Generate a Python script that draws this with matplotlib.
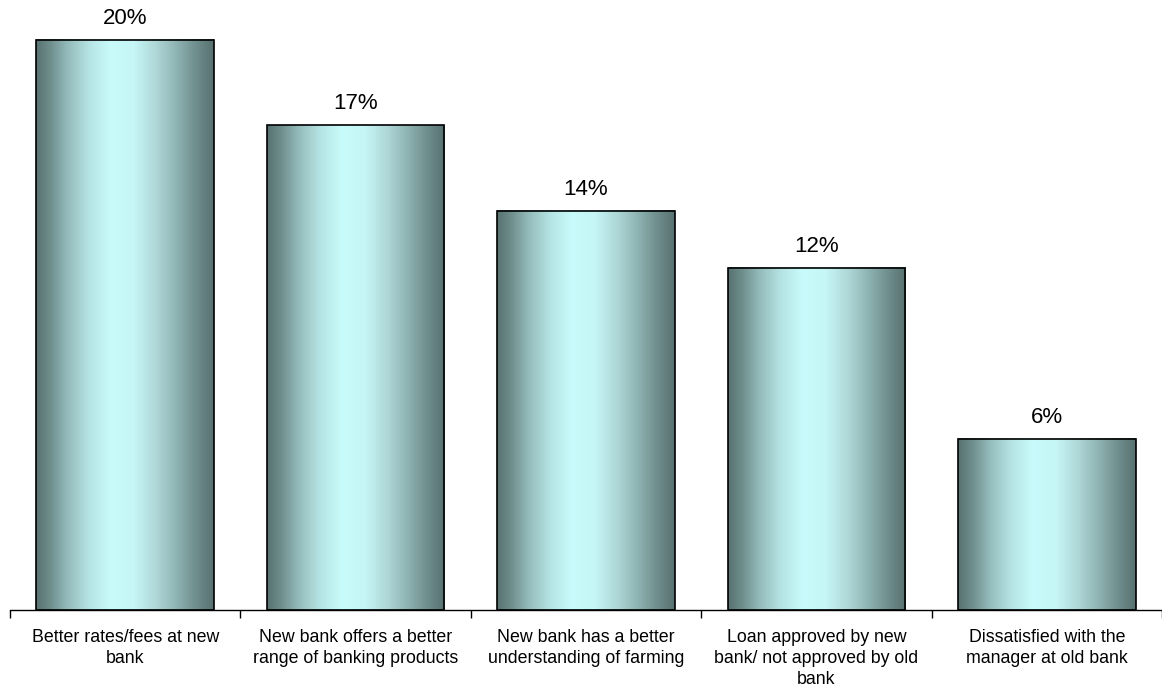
import matplotlib.pyplot as plt
import numpy as np
from matplotlib.colors import LinearSegmentedColormap

plt.rcParams['font.family'] = ['Liberation Sans', 'DejaVu Sans']

categories = ['Better rates/fees at new\nbank',
              'New bank offers a better\nrange of banking products',
              'New bank has a better\nunderstanding of farming',
              'Loan approved by new\nbank/ not approved by old\nbank',
              'Dissatisfied with the\nmanager at old bank']
values = [20, 17, 14, 12, 6]
value_labels = ['20%', '17%', '14%', '12%', '6%']

# metallic teal gradient across each bar
cmap = LinearSegmentedColormap.from_list('metal', [
    (0.0, '#587270'), (0.08, '#6e8e8c'), (0.18, '#95bcbc'),
    (0.3, '#b6e4e4'), (0.42, '#c8fbfb'), (0.55, '#c6f6f6'),
    (0.68, '#aed6d6'), (0.8, '#8cb0b0'), (0.9, '#6f8e8d'),
    (1.0, '#577170')], N=512)
grad = np.linspace(0, 1, 512).reshape(1, -1)

fig = plt.figure(figsize=(11.62, 6.9), dpi=100)
ax = fig.add_axes([0.0086, 0.1159, 0.9914, 0.884])

width = 0.77
x = np.arange(len(values))
for xi, v, lab in zip(x, values, value_labels):
    ax.imshow(grad, cmap=cmap, aspect='auto', interpolation='bilinear',
              extent=(xi - width / 2, xi + width / 2, 0, v), zorder=2)
    ax.add_patch(plt.Rectangle((xi - width / 2, 0), width, v, fill=False,
                               edgecolor='black', linewidth=1.2, zorder=3))
    ax.text(xi, v + 0.4, lab, ha='center', va='bottom', fontsize=16)

ax.set_xlim(-0.5, len(values) - 0.5)
ax.set_ylim(0, 21.4)

for s in ['top', 'right', 'left']:
    ax.spines[s].set_visible(False)
ax.spines['bottom'].set_linewidth(1.0)
ax.set_yticks([])

ax.set_xticks(np.arange(-0.5, len(values), 1.0))
ax.set_xticklabels([])
ax.tick_params(axis='x', which='major', length=6, width=1.0, direction='out')
ax.set_xticks(x, minor=True)
ax.set_xticklabels(categories, minor=True, fontsize=12.8, linespacing=1.3)
ax.tick_params(axis='x', which='minor', length=0, pad=14)

fig.savefig('out.png', dpi=100)
plt.close(fig)
